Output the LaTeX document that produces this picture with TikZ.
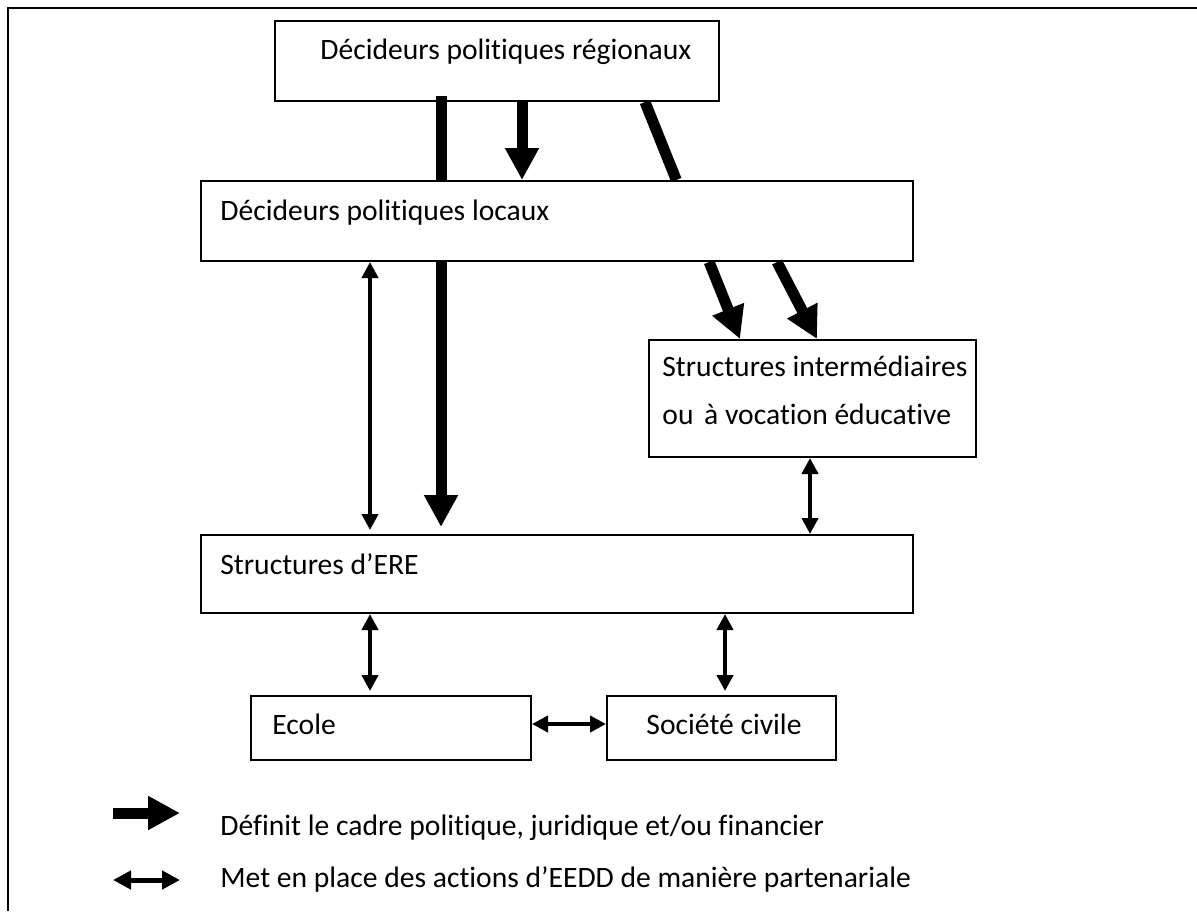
\documentclass[tikz,border=0pt]{standalone}
\usepackage{fontspec}
\setmainfont{Carlito}[Ligatures=NoCommon]
\usetikzlibrary{arrows.meta}

\begin{document}
\begin{tikzpicture}[x=0.5pt,y=-0.5pt,font=\fontsize{14.8}{18}\selectfont,
  box/.style={draw,line width=1pt,fill=white,anchor=north west,inner sep=0pt},
  lbl/.style={anchor=base west,inner sep=0pt},
  cadreline/.style={line width=5.5pt},
  cadre/.style={line width=5.5pt,-{Triangle[length=16pt,width=16pt]}},
  partner/.style={line width=2pt,{Triangle[length=8pt,width=8pt]}-{Triangle[length=8pt,width=8pt]}}]

\useasboundingbox (0,0) rectangle (1197,911);
\draw[line width=1.2pt] (8,911) -- (8,8) -- (1197,8);

\node[box,minimum width=222pt,minimum height=40pt] (reg) at (274,20) {};
\node[box,minimum width=356pt,minimum height=40pt] (loc) at (200,180) {};
\node[box,minimum width=163.5pt,minimum height=58.5pt] (inter) at (648,339) {};
\node[box,minimum width=356pt,minimum height=39pt] (ere) at (200,534) {};
\node[box,minimum width=140pt,minimum height=32pt] (ecole) at (250,695) {};
\node[box,minimum width=114.5pt,minimum height=32pt] (soc) at (606,695) {};

\node[lbl] (treg) at (320,59) {Décideurs politiques régionaux};
\node[lbl] (tloc) at (220,220) {Décideurs politiques locaux};
\node[lbl] (tint1) at (662,376) {Structures intermédiaires};
\node[lbl] (tint2) at (662,424) {ou\hspace{2pt} à vocation éducative};
\node[lbl] (tere) at (220,574) {Structures d’ERE};
\node[lbl] (tecole) at (272,734) {Ecole};
\node[anchor=base,inner sep=0pt] (tsoc) at (724,734) {Société civile};

% cadre politique
\path (reg.south west) ++(167,-6) coordinate (c1);
\draw[cadreline] (c1) -- (c1 |- loc.north);
\path (loc.south west) ++(241,0) coordinate (c2);
\draw[cadre,shorten >=3.5pt] (c2) -- (c2 |- ere.north);
\path (reg.south west) ++(248,0) coordinate (c3);
\draw[cadre] (c3) -- (c3 |- loc.north);

\coordinate (ln1) at (loc.north west);
\coordinate (ln2) at (loc.north east);
\coordinate (ls1) at (loc.south west);
\coordinate (ls2) at (loc.south east);
\path (reg.south west) ++(371,0) coordinate (c4);
\path (inter.north west) ++(92,0) coordinate (c5);
\coordinate (d1) at (intersection of c4--c5 and ln1--ln2);
\coordinate (d2) at (intersection of c4--c5 and ls1--ls2);
\draw[cadreline] (c4) -- (d1);
\draw[cadre] (d2) -- (c5);
\path (loc.south west) ++(577,0) coordinate (c6);
\path (inter.north west) ++(169,0) coordinate (c7);
\draw[cadre] (c6) -- (c7);

% actions partenariales
\path (loc.south west) ++(170,0) coordinate (e1);
\draw[partner,shorten >=2pt] (e1) -- (e1 |- ere.north);
\path (inter.south west) ++(162,0) coordinate (e2);
\draw[partner] (e2) -- (e2 |- ere.north);
\path (ere.south west) ++(170,0) coordinate (e3);
\draw[partner,shorten >=2pt] (e3) -- (e3 |- ecole.north);
\path (ere.south west) ++(525,0) coordinate (e4);
\draw[partner,shorten >=2pt] (e4) -- (e4 |- soc.north);
\draw[partner] ([yshift=2pt]ecole.east) -- ([yshift=2pt]soc.west);

% legende
\coordinate (k1) at (113,813);
\coordinate (k2) at (180,813);
\draw[cadre] (k1) -- (k2);
\node[lbl] (leg1) at (220,835) {Définit le cadre politique, juridique et/ou financier};
\coordinate (k3) at (113,880);
\coordinate (k4) at (180,880);
\draw[partner,line width=2.5pt,{Triangle[length=9pt,width=9pt]}-{Triangle[length=9pt,width=9pt]}] (k3) -- (k4);
\node[lbl] (leg2) at (220,887) {Met en place des actions d’EEDD de manière partenariale};

\end{tikzpicture}
\end{document}
